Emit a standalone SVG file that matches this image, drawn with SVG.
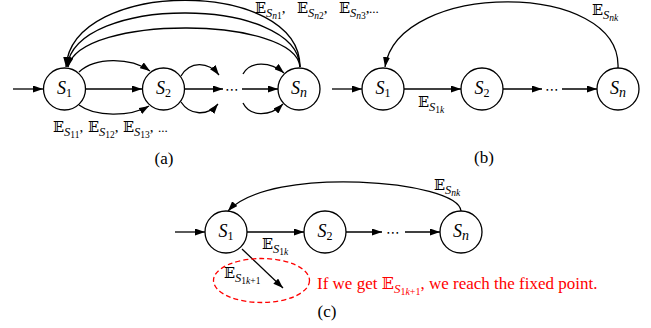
<svg xmlns="http://www.w3.org/2000/svg" width="651" height="328" viewBox="0 0 651 328">
<style>
.nd{fill:#fff;stroke:#000;stroke-width:1.3}
.e{fill:none;stroke:#000;stroke-width:1.3}
.nl{font-family:"Liberation Serif",serif;font-style:italic;font-size:18px;fill:#000}
.nl .d{font-style:normal;font-size:12px}
.nl .n{font-size:14px}
.m{font-family:"Liberation Serif",serif;font-size:15px;fill:#000}
.bb{font-family:"DejaVu Serif","DejaVu Sans",serif;font-size:14.5px}
.si{font-style:italic;font-size:12.5px}
.ss{font-style:italic;font-size:9.5px}
.sd{font-size:9.5px}
.el{font-size:13px}
.cap{font-family:"Liberation Serif",serif;font-size:17px;fill:#000;text-anchor:middle}
.dots{font-family:"DejaVu Sans",sans-serif;font-size:14px;text-anchor:middle;fill:#000}
.red{fill:#f00;font-size:17px}
.red .bb{font-size:16px}
.red .si{font-size:13px}
.red .ss,.red .sd{font-size:10px}
</style>
<defs>
<marker id="ah" viewBox="0 0 10 7" refX="10" refY="3.5" markerWidth="10" markerHeight="7" orient="auto" markerUnits="userSpaceOnUse"><path d="M0,0 L10,3.5 L0,7 z" fill="#000"/></marker>
</defs>

<g id="connectors">
<!-- (a) -->
<path class="e" d="M13 89 H43" marker-end="url(#ah)"/>
<path class="e" d="M86 89 H142" marker-end="url(#ah)"/>
<path class="e" d="M79 72 C95 57,130 57,150 71" marker-end="url(#ah)"/>
<path class="e" d="M79 105 C95 117,130 117,149 106" marker-end="url(#ah)"/>
<path class="e" d="M185 89 H223" marker-end="url(#ah)"/>
<path class="e" d="M181 76 C190 61,208 61,219 75" marker-end="url(#ah)"/>
<path class="e" d="M181 102 C190 116,208 116,218 104" marker-end="url(#ah)"/>
<path class="e" d="M242 89 H278" marker-end="url(#ah)"/>
<path class="e" d="M243 74 C250 61,270 61,284 73" marker-end="url(#ah)"/>
<path class="e" d="M243 103 C250 117,270 117,283 104" marker-end="url(#ah)"/>
<path class="e" d="M300 67 C300 -22,72 -22,66 67" marker-end="url(#ah)"/>
<path class="e" d="M300 67 C298 -4,75 -6,67 67" marker-end="url(#ah)"/>
<path class="e" d="M300 67 C296 16,80 14,68 67" marker-end="url(#ah)"/>
<!-- (b) -->
<path class="e" d="M332 89 H362" marker-end="url(#ah)"/>
<path class="e" d="M404 89 H461" marker-end="url(#ah)"/>
<path class="e" d="M503 89 H542" marker-end="url(#ah)"/>
<path class="e" d="M562 89 H597" marker-end="url(#ah)"/>
<path class="e" d="M618 68 C622 -20,398 -20,385 67" marker-end="url(#ah)"/>
<!-- (c) -->
<path class="e" d="M175 232 H205" marker-end="url(#ah)"/>
<path class="e" d="M247 232 H304" marker-end="url(#ah)"/>
<path class="e" d="M346 232 H382" marker-end="url(#ah)"/>
<path class="e" d="M405 232 H440" marker-end="url(#ah)"/>
<path class="e" d="M461 211 C458 180,270 165,228 211" marker-end="url(#ah)"/>
<path class="e" d="M242 249 L283 288" marker-end="url(#ah)"/>
<ellipse cx="261.5" cy="280.5" rx="48" ry="22" fill="none" stroke="#f00" stroke-width="1.3" stroke-dasharray="5,3"/>
</g>

<text class="dots" x="232" y="93.5">⋯</text>
<text class="dots" x="552" y="93.5">⋯</text>
<text class="dots" x="393" y="236.5">⋯</text>

<g id="a-S1"><circle class="nd" cx="64.5" cy="89" r="21"/><text class="nl" x="64.5" y="94" text-anchor="middle">S<tspan class="d" dy="3">1</tspan></text></g>
<g id="a-S2"><circle class="nd" cx="163.5" cy="89" r="21"/><text class="nl" x="163.5" y="94" text-anchor="middle">S<tspan class="d" dy="3">2</tspan></text></g>
<g id="a-Sn"><circle class="nd" cx="299" cy="89" r="21"/><text class="nl" x="299" y="94" text-anchor="middle">S<tspan class="n" dy="3">n</tspan></text></g>

<g id="b-S1"><circle class="nd" cx="383" cy="89" r="21"/><text class="nl" x="383" y="94" text-anchor="middle">S<tspan class="d" dy="3">1</tspan></text></g>
<g id="b-S2"><circle class="nd" cx="482" cy="89" r="21"/><text class="nl" x="482" y="94" text-anchor="middle">S<tspan class="d" dy="3">2</tspan></text></g>
<g id="b-Sn"><circle class="nd" cx="618" cy="89" r="21"/><text class="nl" x="618" y="94" text-anchor="middle">S<tspan class="n" dy="3">n</tspan></text></g>

<g id="c-S1"><circle class="nd" cx="226" cy="232" r="21"/><text class="nl" x="226" y="237" text-anchor="middle">S<tspan class="d" dy="3">1</tspan></text></g>
<g id="c-S2"><circle class="nd" cx="325" cy="232" r="21"/><text class="nl" x="325" y="237" text-anchor="middle">S<tspan class="d" dy="3">2</tspan></text></g>
<g id="c-Sn"><circle class="nd" cx="461" cy="232" r="21"/><text class="nl" x="461" y="237" text-anchor="middle">S<tspan class="n" dy="3">n</tspan></text></g>

<!-- labels (a) top -->
<text class="m" x="255" y="13"><tspan class="bb">𝔼</tspan><tspan class="si" dy="4">S</tspan><tspan class="ss" dy="2">n</tspan><tspan class="sd">1</tspan><tspan dy="-6">,</tspan></text>
<text class="m" x="297" y="13"><tspan class="bb">𝔼</tspan><tspan class="si" dy="4">S</tspan><tspan class="ss" dy="2">n</tspan><tspan class="sd">2</tspan><tspan dy="-6">,</tspan></text>
<text class="m" x="339" y="13"><tspan class="bb">𝔼</tspan><tspan class="si" dy="4">S</tspan><tspan class="ss" dy="2">n</tspan><tspan class="sd">3</tspan><tspan dy="-6">,</tspan></text>
<text class="m el" x="369" y="13">...</text>
<!-- labels (a) bottom -->
<text class="m" x="53" y="132"><tspan class="bb">𝔼</tspan><tspan class="si" dy="4">S</tspan><tspan class="sd" dy="2">11</tspan><tspan dy="-6">,</tspan></text>
<text class="m" x="88" y="132"><tspan class="bb">𝔼</tspan><tspan class="si" dy="4">S</tspan><tspan class="sd" dy="2">12</tspan><tspan dy="-6">,</tspan></text>
<text class="m" x="123" y="132"><tspan class="bb">𝔼</tspan><tspan class="si" dy="4">S</tspan><tspan class="sd" dy="2">13</tspan><tspan dy="-6">,</tspan></text>
<text class="m el" x="158" y="132">...</text>
<text class="cap" x="164" y="164">(a)</text>
<!-- labels (b) -->
<text class="m" x="592" y="15"><tspan class="bb">𝔼</tspan><tspan class="si" dy="4">S</tspan><tspan class="ss" dy="2">nk</tspan></text>
<text class="m" x="418" y="107"><tspan class="bb">𝔼</tspan><tspan class="si" dy="4">S</tspan><tspan class="sd" dy="2">1</tspan><tspan class="ss">k</tspan></text>
<text class="cap" x="484" y="163">(b)</text>
<!-- labels (c) -->
<text class="m" x="434" y="190"><tspan class="bb">𝔼</tspan><tspan class="si" dy="4">S</tspan><tspan class="ss" dy="2">nk</tspan></text>
<text class="m" x="262" y="249"><tspan class="bb">𝔼</tspan><tspan class="si" dy="4">S</tspan><tspan class="sd" dy="2">1</tspan><tspan class="ss">k</tspan></text>
<text class="m" x="224" y="278"><tspan class="bb">𝔼</tspan><tspan class="si" dy="4">S</tspan><tspan class="sd" dy="2">1</tspan><tspan class="ss">k</tspan><tspan class="sd">+1</tspan></text>
<text class="m red" x="317" y="289"><tspan>If we get </tspan><tspan class="bb">𝔼</tspan><tspan class="si" dy="4">S</tspan><tspan class="sd" dy="2">1</tspan><tspan class="ss">k</tspan><tspan class="sd">+1</tspan><tspan dy="-6">, we reach the fixed point.</tspan></text>
<text class="cap" x="327" y="317">(c)</text>
</svg>
